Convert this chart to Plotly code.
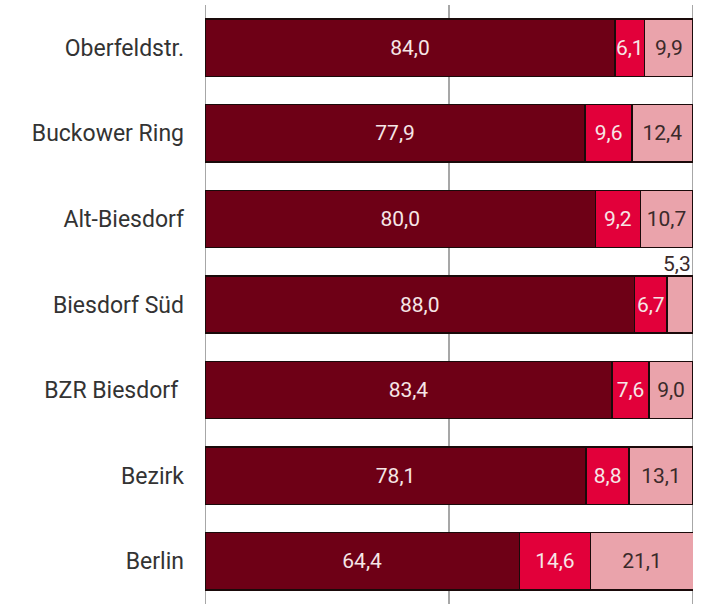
import plotly.graph_objects as go

categories = ["Oberfeldstr.", "Buckower Ring", "Alt-Biesdorf", "Biesdorf Süd",
              "BZR Biesdorf ", "Bezirk", "Berlin"]
series1 = [84.0, 77.9, 80.0, 88.0, 83.4, 78.1, 64.4]
series2 = [6.1, 9.6, 9.2, 6.7, 7.6, 8.8, 14.6]
series3 = [9.9, 12.4, 10.7, 5.3, 9.0, 13.1, 21.1]
grid_x = [0, 50, 100]

FONT = "Roboto, sans-serif"
light = "#F6E6E6"
dark = "#3A2A2A"
outline = dict(color="#1A0A0A", width=1.5)

def fmt(v):
    return f"{v:.1f}".replace(".", ",")

fig = go.Figure()
fig.add_trace(go.Bar(
    y=categories, x=series1, orientation="h",
    marker=dict(color="#6E0016", line=outline),
    text=[fmt(v) for v in series1], textposition="inside", insidetextanchor="middle",
    textangle=0, constraintext="none", textfont=dict(family=FONT, size=21, color=light),
))
fig.add_trace(go.Bar(
    y=categories, x=series2, orientation="h",
    marker=dict(color="#E2003A", line=outline),
    text=[fmt(v) for v in series2], textposition="inside", insidetextanchor="middle",
    textangle=0, constraintext="none", textfont=dict(family=FONT, size=21, color=light),
))
txt3 = [fmt(v) if c != "Biesdorf Süd" else "" for c, v in zip(categories, series3)]
fig.add_trace(go.Bar(
    y=categories, x=series3, orientation="h",
    marker=dict(color="#EAA3AB", line=outline),
    text=txt3, textposition="inside", insidetextanchor="middle",
    textangle=0, constraintext="none", textfont=dict(family=FONT, size=21, color=dark),
))

i = categories.index("Biesdorf Süd")
fig.add_annotation(
    x=series1[i] + series2[i] + series3[i], y=categories[i],
    text=fmt(series3[i]), showarrow=False, xanchor="right", yanchor="bottom",
    yshift=27, xshift=0, font=dict(family=FONT, size=21, color=dark),
)

for gx in grid_x:
    fig.add_shape(type="line", xref="x", yref="paper", x0=gx, x1=gx, y0=0, y1=1,
                  line=dict(color="#8A8A8A", width=1.5), layer="below")

fig.update_layout(
    barmode="stack", bargap=0.33, showlegend=False,
    width=706, height=606,
    margin=dict(l=205, r=13, t=5, b=2),
    plot_bgcolor="white", paper_bgcolor="white",
    xaxis=dict(range=[0, 100], showticklabels=False, showgrid=False, zeroline=False,
               showline=False, automargin=False),
    yaxis=dict(autorange="reversed", tickfont=dict(family=FONT, size=23, color="#333333"),
               ticks="", ticklabelstandoff=20, showline=False, showgrid=False,
               automargin=False),
)

fig.write_html("out.html", config={"displayModeBar": False},
               post_script="document.body.style.margin='0';document.body.style.overflow='hidden';")
